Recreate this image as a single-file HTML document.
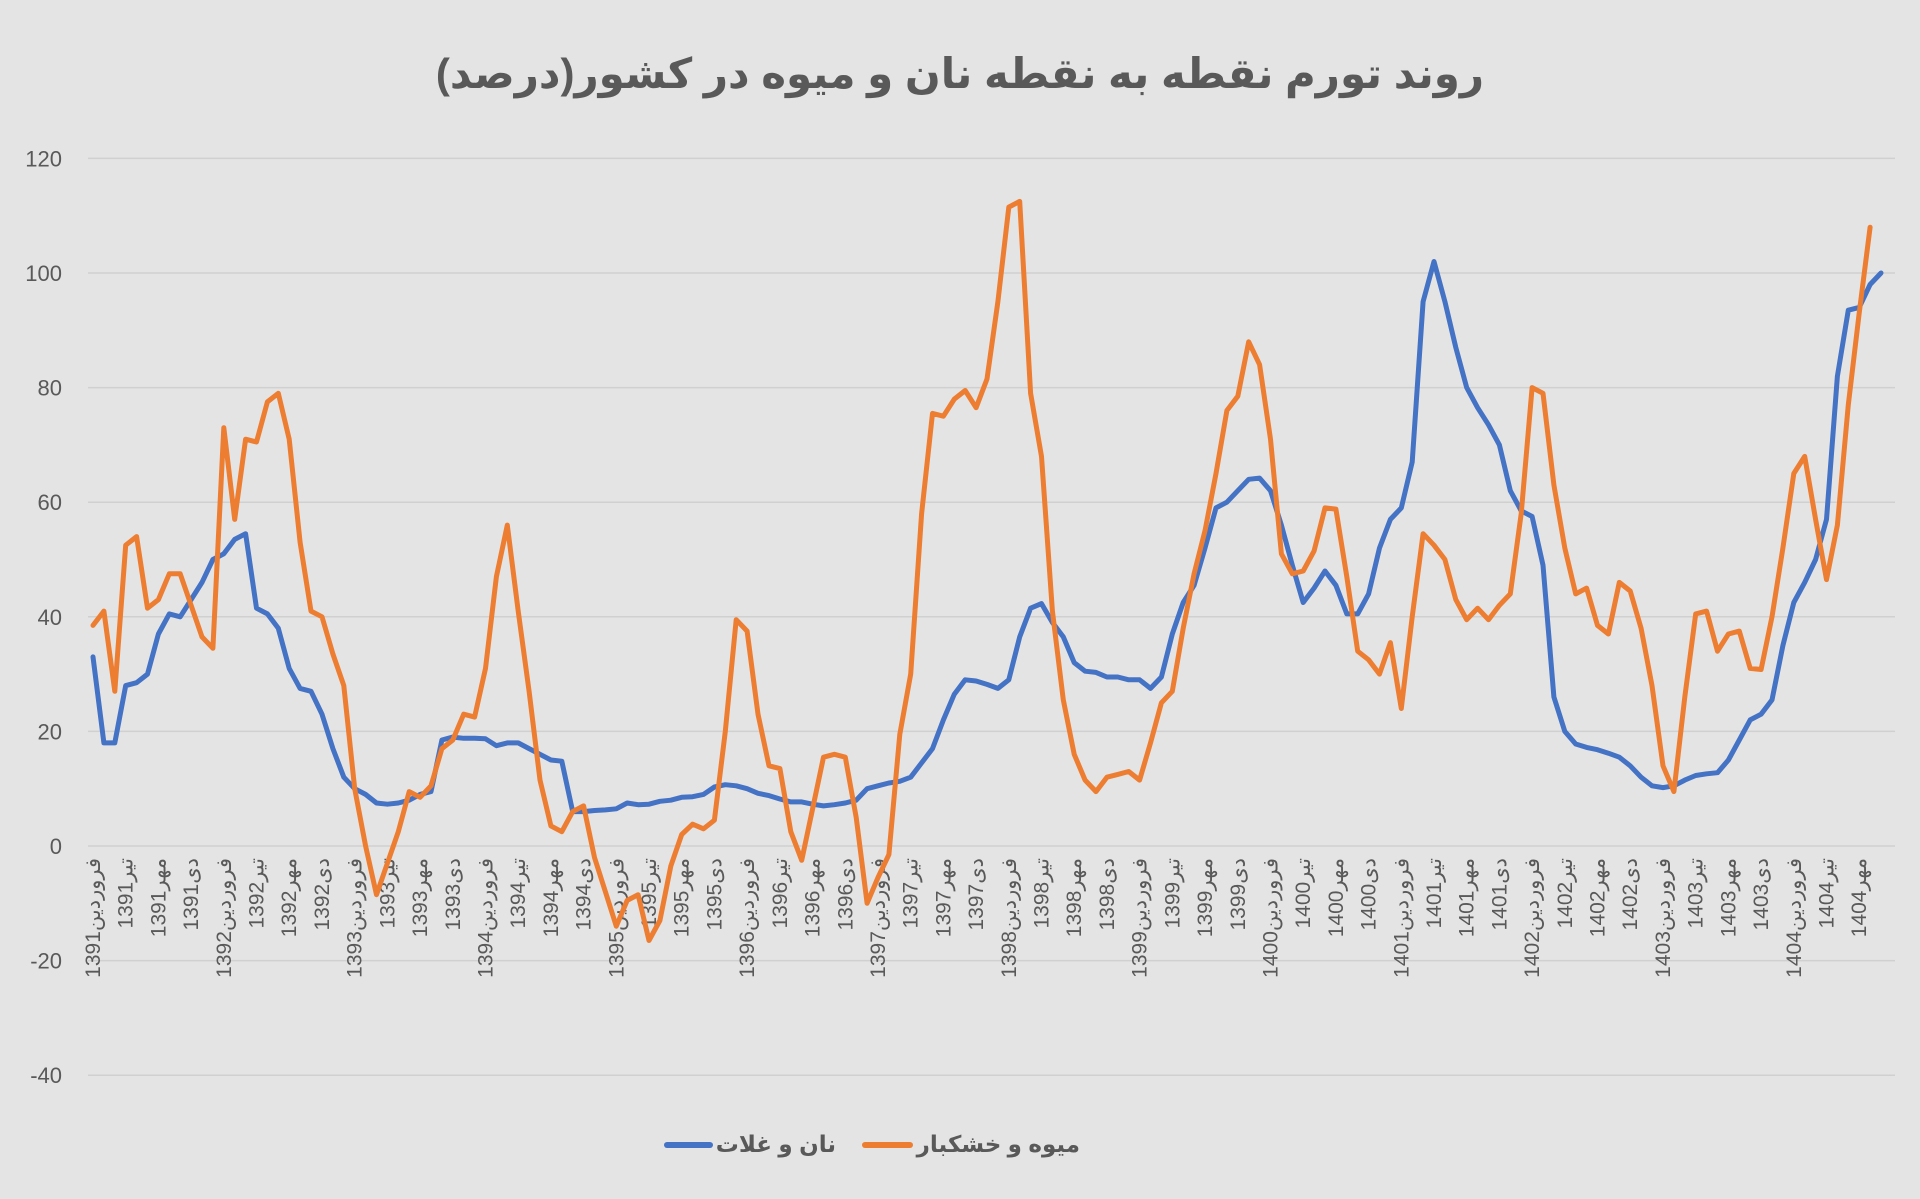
<!DOCTYPE html>
<html><head><meta charset="utf-8">
<style>
html,body{margin:0;padding:0;background:#e4e4e4;}
svg{display:block;}
text{font-family:"Liberation Sans","Noto Sans CJK SC","DejaVu Sans",sans-serif;}
.wrap{position:relative;width:1920px;height:1199px;overflow:hidden;}
.lg{position:absolute;top:1126px;height:36px;line-height:36px;font-family:"Liberation Sans","DejaVu Sans",sans-serif;font-size:23px;font-weight:bold;color:#595959;direction:rtl;text-align:right;white-space:nowrap;}
</style></head>
<body>
<div class="wrap">
<svg id="chart" width="1920" height="1199" viewBox="0 0 1920 1199" xmlns="http://www.w3.org/2000/svg">
<rect x="0" y="0" width="1920" height="1199" fill="#e4e4e4"/>
<text x="960" y="88" text-anchor="middle" font-size="42" font-weight="bold" fill="#595959">روند تورم نقطه به نقطه نان و میوه در کشور(درصد)</text>
<g id="grid"></g>
<g id="yticks"></g>
<g id="xticks"></g>
<g id="series"></g>
<line x1="667" y1="1145" x2="710" y2="1145" stroke="#4472c4" stroke-width="6" stroke-linecap="round"/>
<line x1="865" y1="1145" x2="910" y2="1145" stroke="#ed7d31" stroke-width="6" stroke-linecap="round"/>
</svg>
<div class="lg" style="right:1084px;">نان و غلات</div>
<div class="lg" style="right:840px;">میوه و خشکبار</div>
</div>
<script>
const yTicks = [120,100,80,60,40,20,0,-20,-40];
const years = [1391,1392,1393,1394,1395,1396,1397,1398,1399,1400,1401,1402,1403,1404];
const quarterMonths = ["فروردین","تیر","مهر","دی"];
const breadValues = [33,18,18,28,28.5,30,37,40.5,40,43,46,50,51,53.5,54.5,41.5,40.5,38,31,27.5,27,23,17,12,10,9,7.5,7.3,7.5,8,9,9.5,18.5,19,18.8,18.8,18.7,17.5,18,18,17,16,15,14.8,6,6,6.2,6.3,6.5,7.5,7.2,7.3,7.8,8,8.5,8.6,9,10.3,10.7,10.5,10,9.2,8.8,8.2,7.7,7.7,7.3,7,7.2,7.5,8,10,10.5,11,11.3,12,14.5,17,22,26.5,29,28.8,28.2,27.5,29,36.5,41.5,42.3,39,36.5,32,30.5,30.3,29.5,29.5,29,29,27.5,29.5,37,42.5,45.5,52,59,60,62,64,64.2,62,56,49,42.5,45,48,45.5,40.5,40.5,44,52,57,59,67,95,102,95,87,80,76.5,73.5,70,62,58.5,57.5,49,26,20,17.8,17.2,16.8,16.2,15.5,14,12,10.5,10.2,10.5,11.5,12.3,12.6,12.8,15,18.5,22,23,25.5,35,42.5,46,50,57,82,93.5,94,98,100];
const fruitValues = [38.5,41,27,52.5,54,41.5,43,47.5,47.5,42,36.5,34.5,73,57,71,70.5,77.5,79,71,53,41,40,33.5,28,10,0,-8.5,-3,2.5,9.5,8.5,10.5,17,18.5,23,22.5,31,47,56,41,27,11.5,3.5,2.5,6,7,-2,-8,-14,-9.5,-8.5,-16.5,-13,-3.5,2,3.8,3,4.5,20,39.5,37.5,23,14,13.5,2.5,-2.5,6.5,15.5,16,15.5,5,-10,-5.5,-1.5,19.5,30,58,75.5,75,78,79.5,76.5,81.5,95,111.5,112.5,79,68,41,25.5,16,11.5,9.5,12,12.5,13,11.5,18,25,27,38,47.5,55,65,76,78.5,88,84,71,51,47.5,48,51.5,59,58.8,47,34,32.5,30,35.5,24,40,54.5,52.5,50,43,39.5,41.5,39.5,42,44,58,80,79,63,52,44,45,38.5,37,46,44.5,38,28,14,9.5,26,40.5,41,34,37,37.5,31,30.8,40,52,65,68,57,46.5,56,77,93,108];

const NS="http://www.w3.org/2000/svg";
const X0=93, X1=1881, Y0=846, PER=5.73;
const n = breadValues.length;
function xs(i){return X0+(X1-X0)*i/(n-1);}
function ys(v){return Y0-v*PER;}
function mk(tag,attrs,parent){const e=document.createElementNS(NS,tag);for(const k in attrs)e.setAttribute(k,attrs[k]);parent.appendChild(e);return e;}

const grid=document.getElementById('grid'), yt=document.getElementById('yticks');
yTicks.forEach(v=>{
  const l=mk('line',{x1:88,x2:1895,y1:ys(v),y2:ys(v),stroke:'#d0d0d0','stroke-width':1.5},grid);
  
  
  const t=mk('text',{x:62,y:ys(v)+8,'text-anchor':'end','font-size':22,fill:'#595959'},yt);
  t.textContent=String(v);
  
  
});

const xt=document.getElementById('xticks');
for(let i=0;i<n;i+=3){
  const yr=years[Math.floor(i/12)];
  const m=quarterMonths[(i%12)/3];
  const x=xs(i)+7;
  const t=mk('text',{x:0,y:0,transform:`translate(${x},858) rotate(-90)`,'text-anchor':'end','font-size':21,fill:'#595959'},xt);
  t.textContent=yr+m;
  
  
}

const sg=document.getElementById('series');
function line(vals,color,name){
  const d=vals.map((v,i)=>(i?'L':'M')+xs(i).toFixed(1)+','+ys(v).toFixed(1)).join(' ');
  const p=mk('path',{d:d,fill:'none',stroke:color,'stroke-width':5,'stroke-linejoin':'round','stroke-linecap':'round'},sg);
  
  
}
line(breadValues,'#4472c4','bread-grains-line');
line(fruitValues,'#ed7d31','fruit-nuts-line');
</script>
</body></html>
